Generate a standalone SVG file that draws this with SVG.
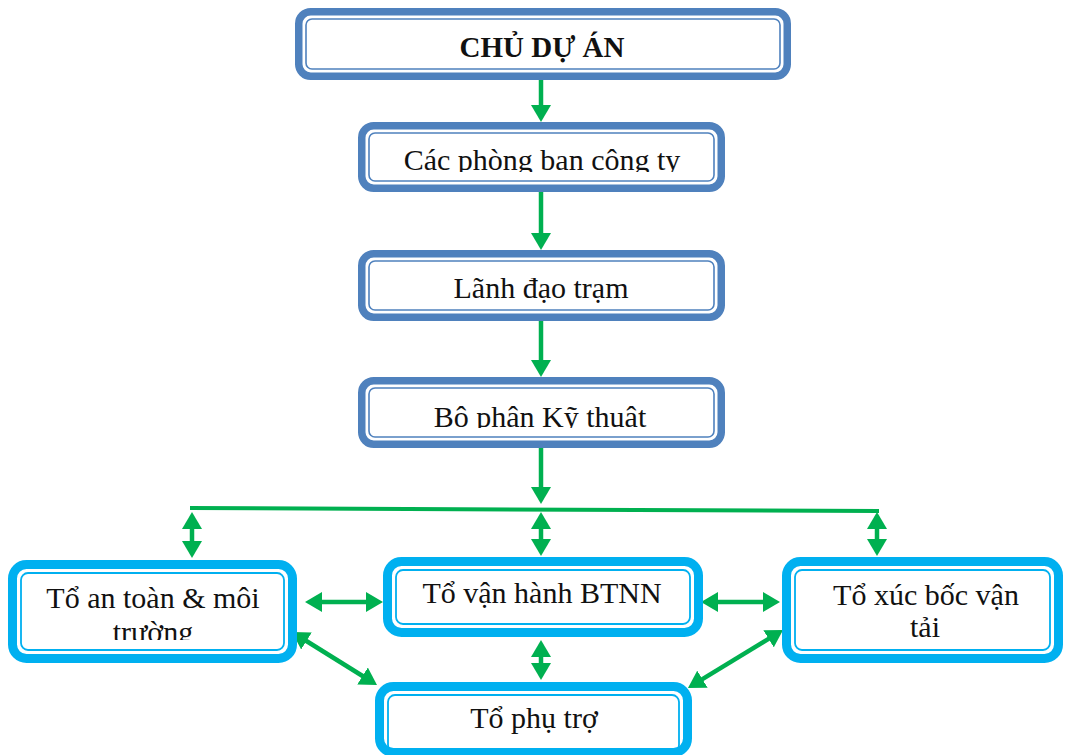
<svg xmlns="http://www.w3.org/2000/svg" width="1065" height="755" viewBox="0 0 1065 755">
  <style>
    .bg { fill: #ffffff; }
    .dk { fill: #ffffff; stroke: #4f81bd; stroke-width: 7.5; }
    .dk-in { fill: none; stroke: #4f81bd; stroke-width: 1.6; }
    .lt { fill: #ffffff; stroke: #00b0f0; stroke-width: 9; }
    .lt-in { fill: none; stroke: #00b0f0; stroke-width: 1.8; }
    .lbl { font-family: "Liberation Serif", "Times New Roman", serif; font-size: 30px; fill: #111111; text-anchor: middle; }
    .bold { font-weight: bold; font-size: 29px; }
    .ln { fill: none; stroke: #00b050; stroke-width: 4.5; }
    .bus { fill: none; stroke: #00b050; stroke-width: 4; }
  </style>
  <defs>
    <marker id="ah" markerUnits="userSpaceOnUse" markerWidth="20" markerHeight="20" refX="1" refY="10" orient="auto-start-reverse">
      <path d="M0,0 L17,10 L0,20 z" fill="#00b050"/>
    </marker>
    <clipPath id="clip-b2"><rect x="300" y="100" width="500" height="72"/></clipPath>
    <clipPath id="clip-b4"><rect x="300" y="360" width="500" height="68"/></clipPath>
    <clipPath id="clip-l"><rect x="0" y="540" width="320" height="100"/></clipPath>
  </defs>

  <rect class="bg" x="0" y="0" width="1065" height="755"/>

  <!-- connectors -->
  <g id="connectors">
    <line class="ln" x1="541" y1="80" x2="541" y2="106" marker-end="url(#ah)"/>
    <line class="ln" x1="541" y1="192" x2="541" y2="234" marker-end="url(#ah)"/>
    <line class="ln" x1="541" y1="321" x2="541" y2="361" marker-end="url(#ah)"/>
    <line class="ln" x1="541" y1="448" x2="541" y2="488" marker-end="url(#ah)"/>
    <polyline class="bus" points="190,508 879,511"/>
    <line class="ln" x1="192" y1="528" x2="192" y2="542" marker-start="url(#ah)" marker-end="url(#ah)"/>
    <line class="ln" x1="541" y1="528" x2="541" y2="540" marker-start="url(#ah)" marker-end="url(#ah)"/>
    <line class="ln" x1="877" y1="528" x2="877" y2="540" marker-start="url(#ah)" marker-end="url(#ah)"/>
    <line class="ln" x1="541" y1="656" x2="541" y2="664" marker-start="url(#ah)" marker-end="url(#ah)"/>
    <line class="ln" x1="321" y1="602" x2="367" y2="602" marker-start="url(#ah)" marker-end="url(#ah)"/>
    <line class="ln" x1="717" y1="602" x2="764" y2="602" marker-start="url(#ah)" marker-end="url(#ah)"/>
    <line class="ln" x1="305.6" y1="640.5" x2="363.4" y2="676.5" marker-start="url(#ah)" marker-end="url(#ah)"/>
    <line class="ln" x1="769.4" y1="638.3" x2="701.6" y2="679.7" marker-start="url(#ah)" marker-end="url(#ah)"/>
  </g>

  <!-- top-level chain -->
  <g id="chu-du-an">
    <rect class="dk" x="298.75" y="11.75" width="488.5" height="64.5" rx="12"/>
    <rect class="dk-in" x="306" y="19" width="474" height="50" rx="6"/>
    <text class="lbl bold" x="542" y="57">CHỦ DỰ ÁN</text>
  </g>

  <g id="phong-ban">
    <rect class="dk" x="361.75" y="125.75" width="359.5" height="62.5" rx="12"/>
    <rect class="dk-in" x="369" y="133" width="345" height="48" rx="6"/>
    <text class="lbl" x="542" y="170" clip-path="url(#clip-b2)">Các phòng ban công ty</text>
  </g>

  <g id="lanh-dao">
    <rect class="dk" x="361.75" y="253.75" width="359.5" height="63.5" rx="12"/>
    <rect class="dk-in" x="369" y="261" width="345" height="49" rx="6"/>
    <text class="lbl" x="541" y="298">Lãnh đạo trạm</text>
  </g>

  <g id="ky-thuat">
    <rect class="dk" x="361.75" y="380.75" width="359.5" height="63.5" rx="12"/>
    <rect class="dk-in" x="369" y="388" width="345" height="49" rx="6"/>
    <text class="lbl" x="540" y="427" clip-path="url(#clip-b4)">Bộ phận Kỹ thuật</text>
  </g>

  <!-- working teams -->
  <g id="an-toan">
    <rect class="lt" x="12.5" y="564.5" width="280" height="94" rx="14"/>
    <rect class="lt-in" x="21" y="573" width="263" height="77" rx="7"/>
    <text class="lbl" x="153" y="608">Tổ an toàn &amp; môi</text>
    <text class="lbl" x="153" y="642" clip-path="url(#clip-l)">trường</text>
  </g>

  <g id="van-hanh">
    <rect class="lt" x="387.5" y="561.5" width="311" height="71" rx="14"/>
    <rect class="lt-in" x="396" y="570" width="294" height="54" rx="7"/>
    <text class="lbl" x="542" y="603">Tổ vận hành BTNN</text>
  </g>

  <g id="xuc-boc">
    <rect class="lt" x="786.5" y="561.5" width="272" height="97" rx="14"/>
    <rect class="lt-in" x="795" y="570" width="255" height="80" rx="7"/>
    <text class="lbl" x="926" y="605">Tổ xúc bốc vận</text>
    <text class="lbl" x="925" y="637">tải</text>
  </g>

  <g id="phu-tro">
    <rect class="lt" x="379.5" y="686.5" width="308" height="66" rx="14"/>
    <rect class="lt-in" x="388" y="695" width="291" height="57" rx="7"/>
    <text class="lbl" x="534" y="728">Tổ phụ trợ</text>
  </g>
</svg>
